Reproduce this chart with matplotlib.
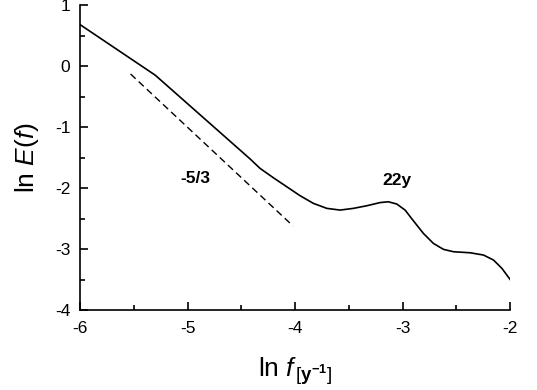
import matplotlib
matplotlib.use("Agg")
import matplotlib.pyplot as plt
from matplotlib.ticker import MultipleLocator

plt.rcParams["font.family"] = ["Liberation Sans", "DejaVu Sans"]
plt.rcParams["mathtext.fontset"] = "custom"
plt.rcParams["mathtext.rm"] = "Liberation Sans"
plt.rcParams["mathtext.it"] = "Liberation Sans:italic"
plt.rcParams["mathtext.bf"] = "Liberation Sans:bold"
plt.rcParams["axes.unicode_minus"] = False

# spectrum: ln f vs ln E(f)
ln_f = [-6.0, -5.30, -4.42, -4.326, -4.202, -4.077, -3.953, -3.830, -3.705,
        -3.581, -3.458, -3.333, -3.209, -3.132, -3.054, -2.977, -2.900, -2.807,
        -2.714, -2.620, -2.527, -2.372, -2.248, -2.155, -2.077, -2.0]
ln_E = [0.68, -0.15, -1.52, -1.677, -1.831, -1.979, -2.126, -2.251, -2.333,
        -2.361, -2.333, -2.290, -2.238, -2.225, -2.262, -2.361, -2.536, -2.743,
        -2.907, -3.005, -3.044, -3.061, -3.098, -3.180, -3.316, -3.50]

# -5/3 reference slope
slope_f = [-5.53, -4.02]
slope_E = [-0.13, -2.62]

fig = plt.figure(figsize=(5.37, 3.9), dpi=100)
ax = fig.add_axes([0.149, 0.205, 0.801, 0.782])

ax.plot(ln_f, ln_E, color="black", lw=1.2, solid_joinstyle="round")
ax.plot(slope_f, slope_E, color="black", lw=1.0, ls=(0, (5, 3)))

ax.text(-4.93, -1.92, "-5/3", fontsize=12.5, fontweight="bold", ha="center", va="baseline")
ax.text(-3.05, -1.95, "22y", fontsize=12.5, fontweight="bold", ha="center", va="baseline")

ax.set_xlim(-6, -2)
ax.set_ylim(-4, 1)
ax.xaxis.set_major_locator(MultipleLocator(1))
ax.xaxis.set_minor_locator(MultipleLocator(0.5))
ax.yaxis.set_major_locator(MultipleLocator(1))
ax.yaxis.set_minor_locator(MultipleLocator(0.5))
ax.tick_params(which="both", direction="in", width=1.2, labelsize=12.5)
ax.tick_params(axis="x", pad=8)
ax.tick_params(axis="y", pad=7)
ax.tick_params(which="major", length=6)
ax.tick_params(which="minor", length=3.5)
ax.spines["top"].set_visible(False)
ax.spines["right"].set_visible(False)
ax.spines["left"].set_linewidth(1.2)
ax.spines["bottom"].set_linewidth(1.2)

ax.set_ylabel(r"ln $E$($f$)", fontsize=19)
ax.set_xlabel(r"ln $f_{\,[\mathbf{y}^{\mathbf{-1}}]}$", fontsize=19)
ax.yaxis.set_label_coords(-0.09, 0.5)
ax.xaxis.set_label_coords(0.5, -0.15)

fig.savefig("out.png", dpi=100)
